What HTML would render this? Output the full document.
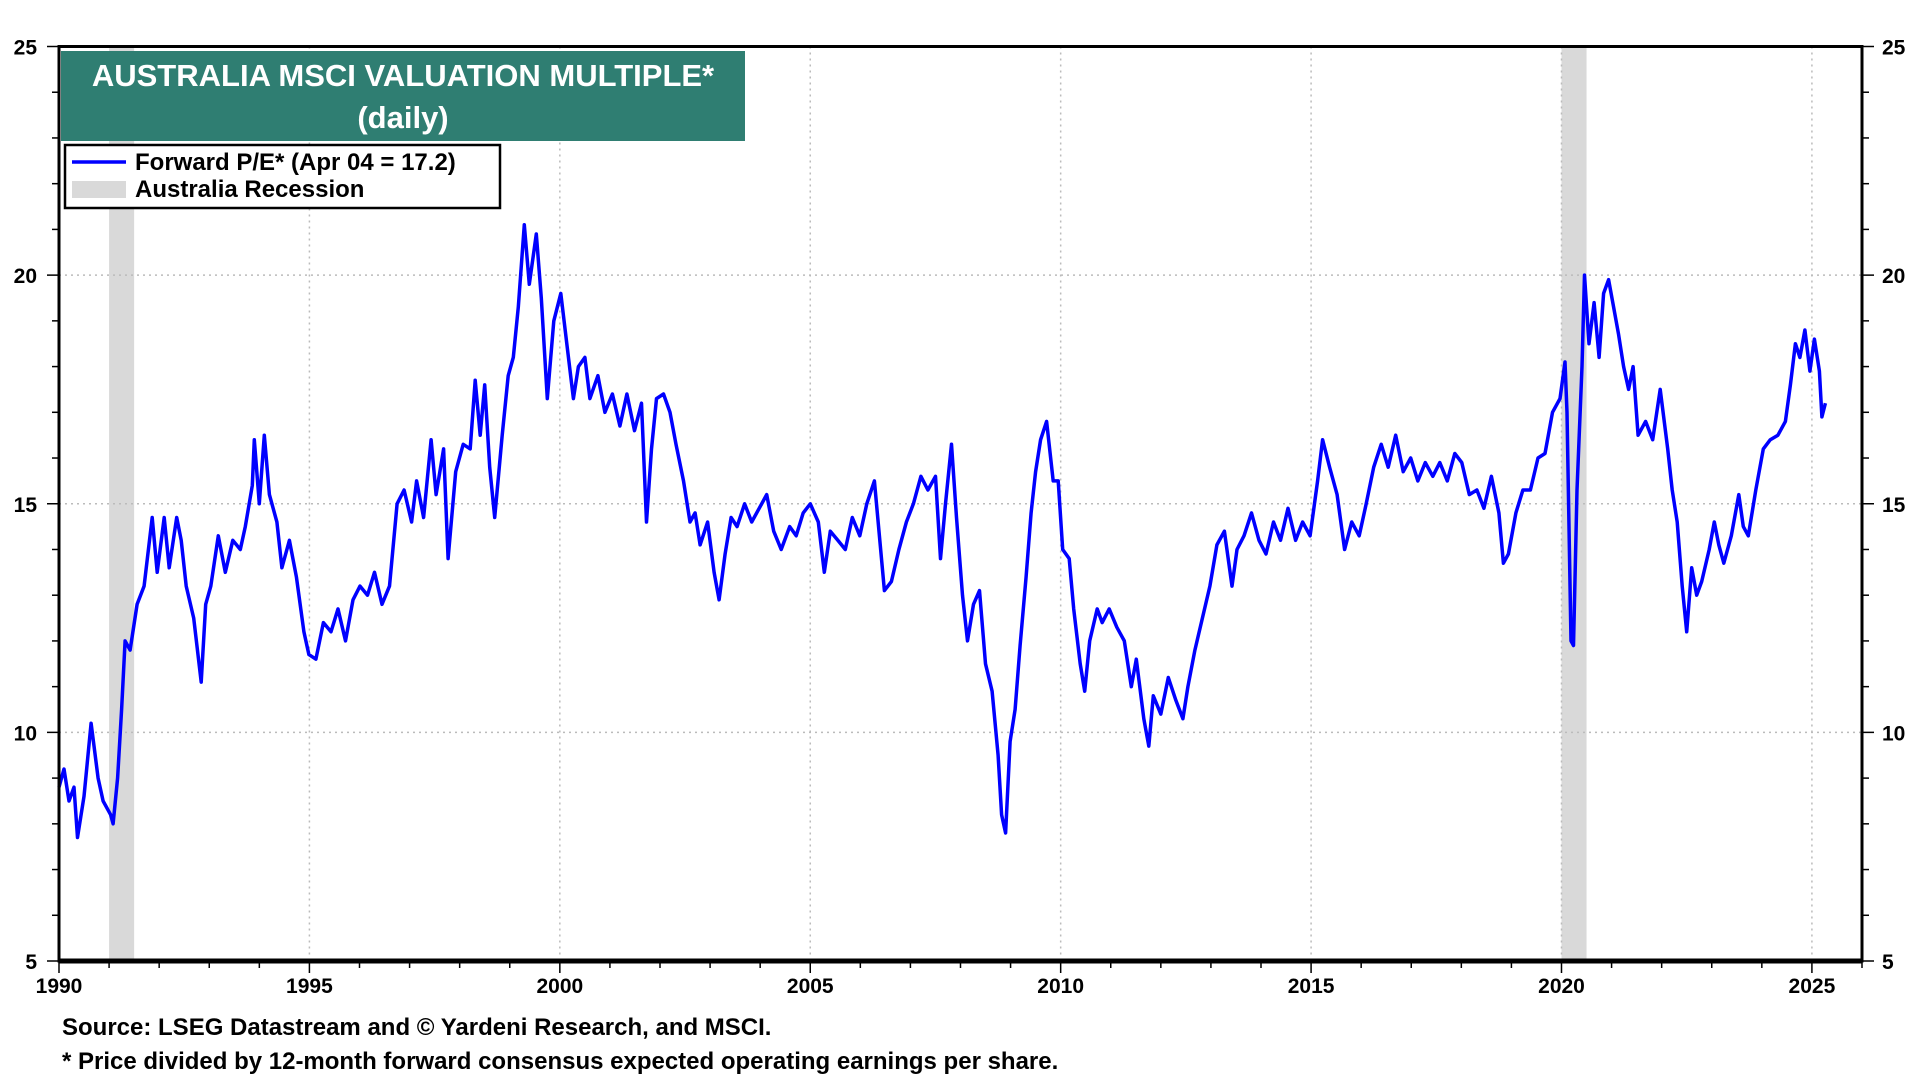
<!DOCTYPE html>
<html><head><meta charset="utf-8"><style>
html,body{margin:0;padding:0;background:#fff;}
svg{display:block;font-family:"Liberation Sans",Arial,sans-serif;font-weight:bold;}
</style></head><body>
<svg id="chart" width="1920" height="1080" viewBox="0 0 1920 1080">
<g id="rec"></g>
<g id="grid"></g>
<g id="series"></g>
<g id="axes"></g>
<g>
<rect x="61" y="51" width="684" height="90" fill="#2f7e72"/>
<text x="403" y="86" fill="#fff" font-size="31" text-anchor="middle">AUSTRALIA MSCI VALUATION MULTIPLE*</text>
<text x="403" y="128" fill="#fff" font-size="31" text-anchor="middle">(daily)</text>
</g>
<g>
<rect x="65" y="145" width="435" height="63" fill="#fff" stroke="#000" stroke-width="2.5"/>
<line x1="72" y1="162" x2="126" y2="162" stroke="#0000ff" stroke-width="3.5"/>
<text x="135" y="170" font-size="24">Forward P/E* (Apr 04 = 17.2)</text>
<rect x="72" y="181" width="54" height="17" fill="#d9d9d9"/>
<text x="135" y="197" font-size="24">Australia Recession</text>
</g>
<text x="62" y="1035" font-size="24">Source: LSEG Datastream and © Yardeni Research, and MSCI.</text>
<text x="62" y="1069" font-size="24">* Price divided by 12-month forward consensus expected operating earnings per share.</text>
</svg>
<script>
const years=[1990.0,1990.1,1990.2,1990.3,1990.37,1990.5,1990.64,1990.78,1990.88,1991.03,1991.08,1991.17,1991.25,1991.32,1991.42,1991.56,1991.7,1991.86,1991.96,1992.1,1992.2,1992.35,1992.44,1992.54,1992.69,1992.84,1992.93,1993.03,1993.18,1993.32,1993.47,1993.62,1993.72,1993.86,1993.9,1994.0,1994.1,1994.2,1994.35,1994.45,1994.6,1994.74,1994.89,1994.99,1995.13,1995.28,1995.43,1995.57,1995.72,1995.87,1996.01,1996.16,1996.3,1996.45,1996.6,1996.75,1996.89,1997.04,1997.14,1997.28,1997.43,1997.53,1997.68,1997.77,1997.92,1998.07,1998.21,1998.31,1998.41,1998.5,1998.6,1998.7,1998.85,1998.97,1999.07,1999.17,1999.29,1999.39,1999.53,1999.63,1999.75,1999.88,2000.02,2000.14,2000.27,2000.37,2000.5,2000.6,2000.76,2000.9,2001.05,2001.2,2001.34,2001.49,2001.63,2001.73,2001.83,2001.93,2002.07,2002.2,2002.32,2002.47,2002.6,2002.7,2002.8,2002.95,2003.08,2003.18,2003.3,2003.42,2003.54,2003.69,2003.83,2003.98,2004.13,2004.27,2004.42,2004.59,2004.72,2004.86,2005.0,2005.16,2005.28,2005.4,2005.55,2005.7,2005.84,2005.99,2006.13,2006.28,2006.38,2006.48,2006.62,2006.77,2006.92,2007.06,2007.21,2007.35,2007.5,2007.6,2007.7,2007.82,2007.92,2008.04,2008.14,2008.26,2008.38,2008.5,2008.63,2008.75,2008.82,2008.9,2008.99,2009.09,2009.19,2009.31,2009.41,2009.5,2009.6,2009.72,2009.85,2009.95,2010.04,2010.17,2010.26,2010.39,2010.48,2010.58,2010.73,2010.83,2010.97,2011.12,2011.27,2011.41,2011.51,2011.66,2011.76,2011.85,2012.0,2012.15,2012.3,2012.44,2012.54,2012.68,2012.83,2012.98,2013.12,2013.27,2013.42,2013.52,2013.66,2013.81,2013.96,2014.1,2014.25,2014.39,2014.54,2014.69,2014.83,2014.98,2015.13,2015.23,2015.37,2015.52,2015.67,2015.81,2015.96,2016.1,2016.25,2016.4,2016.54,2016.69,2016.84,2016.99,2017.13,2017.28,2017.43,2017.57,2017.72,2017.87,2018.01,2018.16,2018.31,2018.45,2018.6,2018.75,2018.84,2018.94,2019.09,2019.23,2019.38,2019.53,2019.67,2019.82,2019.97,2020.07,2020.11,2020.19,2020.24,2020.31,2020.41,2020.46,2020.55,2020.65,2020.75,2020.84,2020.94,2021.04,2021.14,2021.24,2021.34,2021.43,2021.53,2021.68,2021.82,2021.97,2022.12,2022.21,2022.31,2022.41,2022.5,2022.6,2022.7,2022.8,2022.95,2023.05,2023.14,2023.24,2023.39,2023.54,2023.63,2023.73,2023.88,2024.03,2024.17,2024.32,2024.47,2024.57,2024.67,2024.76,2024.86,2024.96,2025.05,2025.15,2025.2,2025.27];
const pe=[8.8,9.2,8.5,8.8,7.7,8.6,10.2,9.0,8.5,8.2,8.0,9.0,10.5,12.0,11.8,12.8,13.2,14.7,13.5,14.7,13.6,14.7,14.2,13.2,12.5,11.1,12.8,13.2,14.3,13.5,14.2,14.0,14.5,15.4,16.4,15.0,16.5,15.2,14.6,13.6,14.2,13.4,12.2,11.7,11.6,12.4,12.2,12.7,12.0,12.9,13.2,13.0,13.5,12.8,13.2,15.0,15.3,14.6,15.5,14.7,16.4,15.2,16.2,13.8,15.7,16.3,16.2,17.7,16.5,17.6,15.8,14.7,16.5,17.8,18.2,19.3,21.1,19.8,20.9,19.5,17.3,19.0,19.6,18.5,17.3,18.0,18.2,17.3,17.8,17.0,17.4,16.7,17.4,16.6,17.2,14.6,16.2,17.3,17.4,17.0,16.3,15.5,14.6,14.8,14.1,14.6,13.5,12.9,13.9,14.7,14.5,15.0,14.6,14.9,15.2,14.4,14.0,14.5,14.3,14.8,15.0,14.6,13.5,14.4,14.2,14.0,14.7,14.3,15.0,15.5,14.3,13.1,13.3,14.0,14.6,15.0,15.6,15.3,15.6,13.8,15.0,16.3,14.7,13.0,12.0,12.8,13.1,11.5,10.9,9.5,8.2,7.8,9.8,10.5,11.9,13.4,14.8,15.7,16.4,16.8,15.5,15.5,14.0,13.8,12.7,11.5,10.9,12.0,12.7,12.4,12.7,12.3,12.0,11.0,11.6,10.3,9.7,10.8,10.4,11.2,10.7,10.3,11.0,11.8,12.5,13.2,14.1,14.4,13.2,14.0,14.3,14.8,14.2,13.9,14.6,14.2,14.9,14.2,14.6,14.3,15.5,16.4,15.8,15.2,14.0,14.6,14.3,15.0,15.8,16.3,15.8,16.5,15.7,16.0,15.5,15.9,15.6,15.9,15.5,16.1,15.9,15.2,15.3,14.9,15.6,14.8,13.7,13.9,14.8,15.3,15.3,16.0,16.1,17.0,17.3,18.1,17.0,12.0,11.9,15.3,18.0,20.0,18.5,19.4,18.2,19.6,19.9,19.3,18.7,18.0,17.5,18.0,16.5,16.8,16.4,17.5,16.2,15.3,14.6,13.2,12.2,13.6,13.0,13.3,14.0,14.6,14.1,13.7,14.3,15.2,14.5,14.3,15.3,16.2,16.4,16.5,16.8,17.6,18.5,18.2,18.8,17.9,18.6,17.9,16.9,17.2];
const recStart=[1991.0,2020.0];
const recEnd=[1991.5,2020.5];
const yTicks=[5,10,15,20,25];
const xTicks=[1990,1995,2000,2005,2010,2015,2020,2025];

const L=59,R=1862,T=46.5,B=961,X0=1990,X1=2026,Y0=5,Y1=25;
const xs=v=>L+(v-X0)/(X1-X0)*(R-L);
const ys=v=>B-(v-Y0)/(Y1-Y0)*(B-T);
const NS='http://www.w3.org/2000/svg';
function mk(parent,tag,attrs){const e=document.createElementNS(NS,tag);for(const k in attrs)e.setAttribute(k,attrs[k]);document.getElementById(parent).appendChild(e);return e;}

for(let i=0;i<recStart.length;i++){
  const r=mk('rec','rect',{x:xs(recStart[i]),y:T,width:xs(recEnd[i])-xs(recStart[i]),height:B-T,fill:'#d9d9d9'});
  
  
}
yTicks.forEach(v=>{
  if(v>Y0&&v<Y1){const g=mk('grid','line',{x1:L,x2:R,y1:ys(v),y2:ys(v),stroke:'#bbb','stroke-width':1.5,'stroke-dasharray':'2,4'});
  
  }
  const a=mk('axes','text',{x:L-22,y:ys(v)+8,'font-size':21,'text-anchor':'end'});a.textContent=v;
  
  
  const b=mk('axes','text',{x:R+20,y:ys(v)+8,'font-size':21});b.textContent=v;
  
  
});
for(let v=Y0;v<=Y1;v++){
  const len=(v%5===0)?12:7;
  mk('axes','line',{x1:L-len,x2:L,y1:ys(v),y2:ys(v),stroke:'#000','stroke-width':1.5});
  mk('axes','line',{x1:R,x2:R+len,y1:ys(v),y2:ys(v),stroke:'#000','stroke-width':1.5});
}
xTicks.forEach(v=>{
  if(v>X0){const g=mk('grid','line',{x1:xs(v),x2:xs(v),y1:T,y2:B,stroke:'#bbb','stroke-width':1.5,'stroke-dasharray':'2,4'});
  
  }
  const t=mk('axes','text',{x:xs(v),y:993,'font-size':21,'text-anchor':'middle'});t.textContent=v;
  
  
});
for(let v=X0;v<=X1;v++){
  mk('axes','line',{x1:xs(v),x2:xs(v),y1:B,y2:B+(v%5===0?12:7),stroke:'#000','stroke-width':1.5});
}
const pts=years.map((y,i)=>xs(y).toFixed(1)+','+ys(pe[i]).toFixed(1)).join(' ');
const line=mk('series','polyline',{points:pts,fill:'none',stroke:'#0000ff','stroke-width':3.5,'stroke-linejoin':'round'});


const frame=mk('axes','rect',{x:L,y:T,width:R-L,height:B-T,fill:'none',stroke:'#000','stroke-width':3});


mk('axes','line',{x1:L,x2:R,y1:B,y2:B,stroke:'#000','stroke-width':5});
</script>
</body></html>
